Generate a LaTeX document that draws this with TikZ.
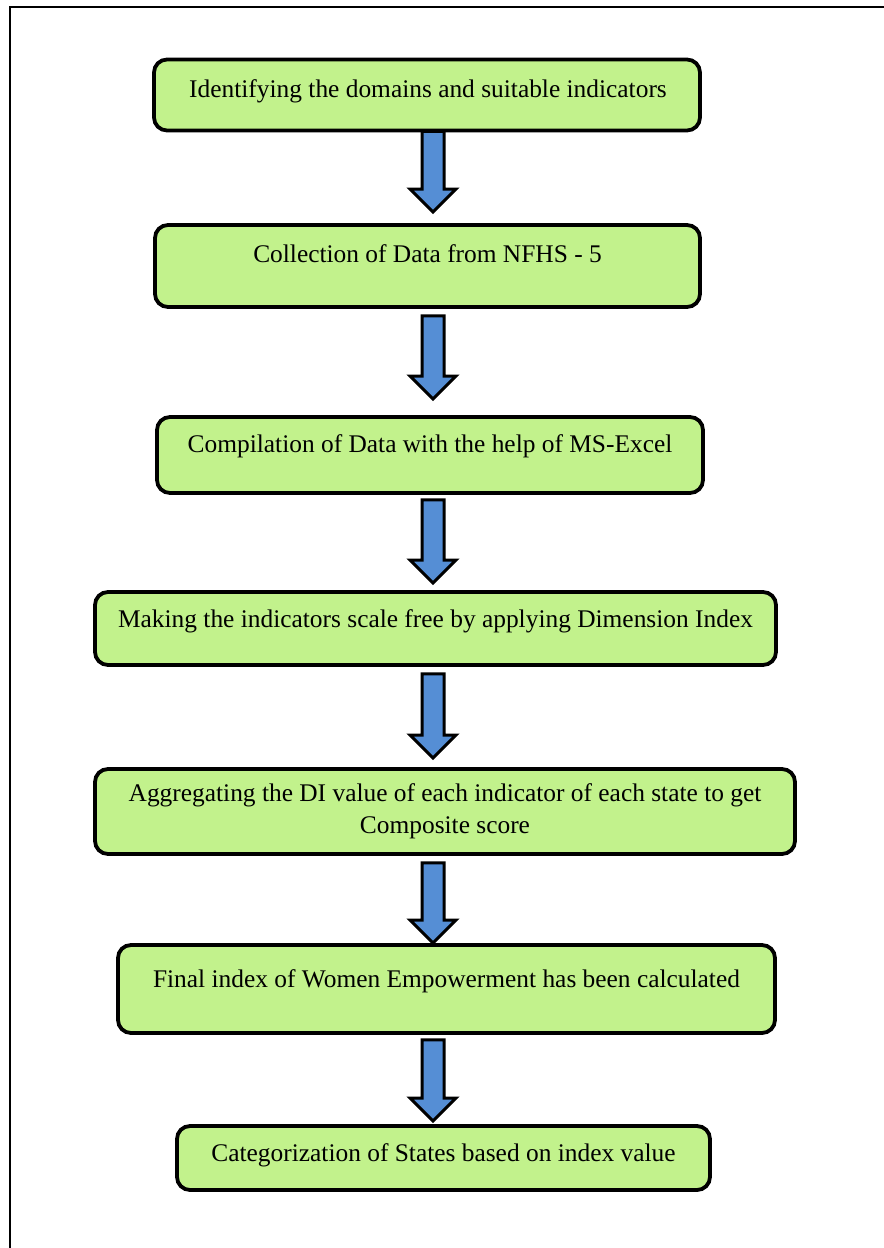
\documentclass[tikz,border=0pt]{standalone}
\usepackage{fontspec}
\setmainfont{Liberation Serif}
\usetikzlibrary{calc}
\definecolor{boxgreen}{RGB}{194,242,140}
\definecolor{arrowblue}{RGB}{85,142,213}
\tikzset{
  stepbox/.style={draw=black, line width=3.8bp, fill=boxgreen, rounded corners=13bp, inner sep=0pt},
  steptext/.style={font=\fontsize{25.4bp}{32bp}\selectfont, align=center, inner sep=0pt, text=black},
  blockarrow/.style={draw=black, line width=3bp, fill=arrowblue, line join=miter,
    to path={let \p1=(\tikztostart), \p2=(\tikztotarget) in
      (\x1-11bp,\y1) -- (\x1-11bp,\y2+23bp) -- (\x1-23bp,\y2+23bp) -- (\x1,\y2)
      -- (\x1+23bp,\y2+23bp) -- (\x1+11bp,\y2+23bp) -- (\x1+11bp,\y1) -- cycle}}
}
\begin{document}
\begin{tikzpicture}[x=1bp,y=-1bp]
\useasboundingbox (0,0) rectangle (884,1248);
\fill[white] (0,0) rectangle (884,1248);
\draw[line width=2bp] (884,7) -- (10,7) -- (10,1248);

\node[stepbox, minimum width=546bp, minimum height=71bp] (b1) at (427,95) {};
\node[stepbox, minimum width=545bp, minimum height=82bp] (b2) at (427.5,266) {};
\node[stepbox, minimum width=546bp, minimum height=76bp] (b3) at (430,455) {};
\node[stepbox, minimum width=681bp, minimum height=73bp] (b4) at (435.5,628.5) {};
\node[stepbox, minimum width=700bp, minimum height=85bp] (b5) at (445,811.5) {};
\node[stepbox, minimum width=657bp, minimum height=88bp] (b6) at (446.5,989) {};
\node[stepbox, minimum width=533bp, minimum height=64bp] (b7) at (443.5,1158) {};

\node[steptext, anchor=base] (t1) at (428,97) {Identifying the domains and suitable indicators};
\node[steptext, anchor=base] (t2) at (427.5,262) {Collection of Data from NFHS - 5};
\node[steptext, anchor=base] (t3) at (430,452) {Compilation of Data with the help of MS-Excel};
\node[steptext, anchor=base] (t4) at (435.5,627) {Making the indicators scale free by applying Dimension Index};
\node[steptext] (t5) at (445,811) {Aggregating the DI value of each indicator of each state to get\\Composite score};
\node[steptext, anchor=base] (t6) at (446.5,987) {Final index of Women Empowerment has been calculated};
\node[steptext, anchor=base] (t7) at (443.5,1161) {Categorization of States based on index value};

\coordinate (ax) at (433,0);
\draw[blockarrow] ($(ax |- b1.south)+(0,-1)$) to ($(ax |- b2.north)+(0,-11)$);
\draw[blockarrow] ($(ax |- b2.south)+(0,7)$) to ($(ax |- b3.north)+(0,-16)$);
\draw[blockarrow] ($(ax |- b3.south)+(0,5)$) to ($(ax |- b4.north)+(0,-7)$);
\draw[blockarrow] ($(ax |- b4.south)+(0,7)$) to ($(ax |- b5.north)+(0,-9)$);
\draw[blockarrow] ($(ax |- b5.south)+(0,7)$) to ($(ax |- b6.north)+(0,0)$);
\draw[blockarrow] ($(ax |- b6.south)+(0,5)$) to ($(ax |- b7.north)+(0,-3)$);
\end{tikzpicture}
\end{document}
